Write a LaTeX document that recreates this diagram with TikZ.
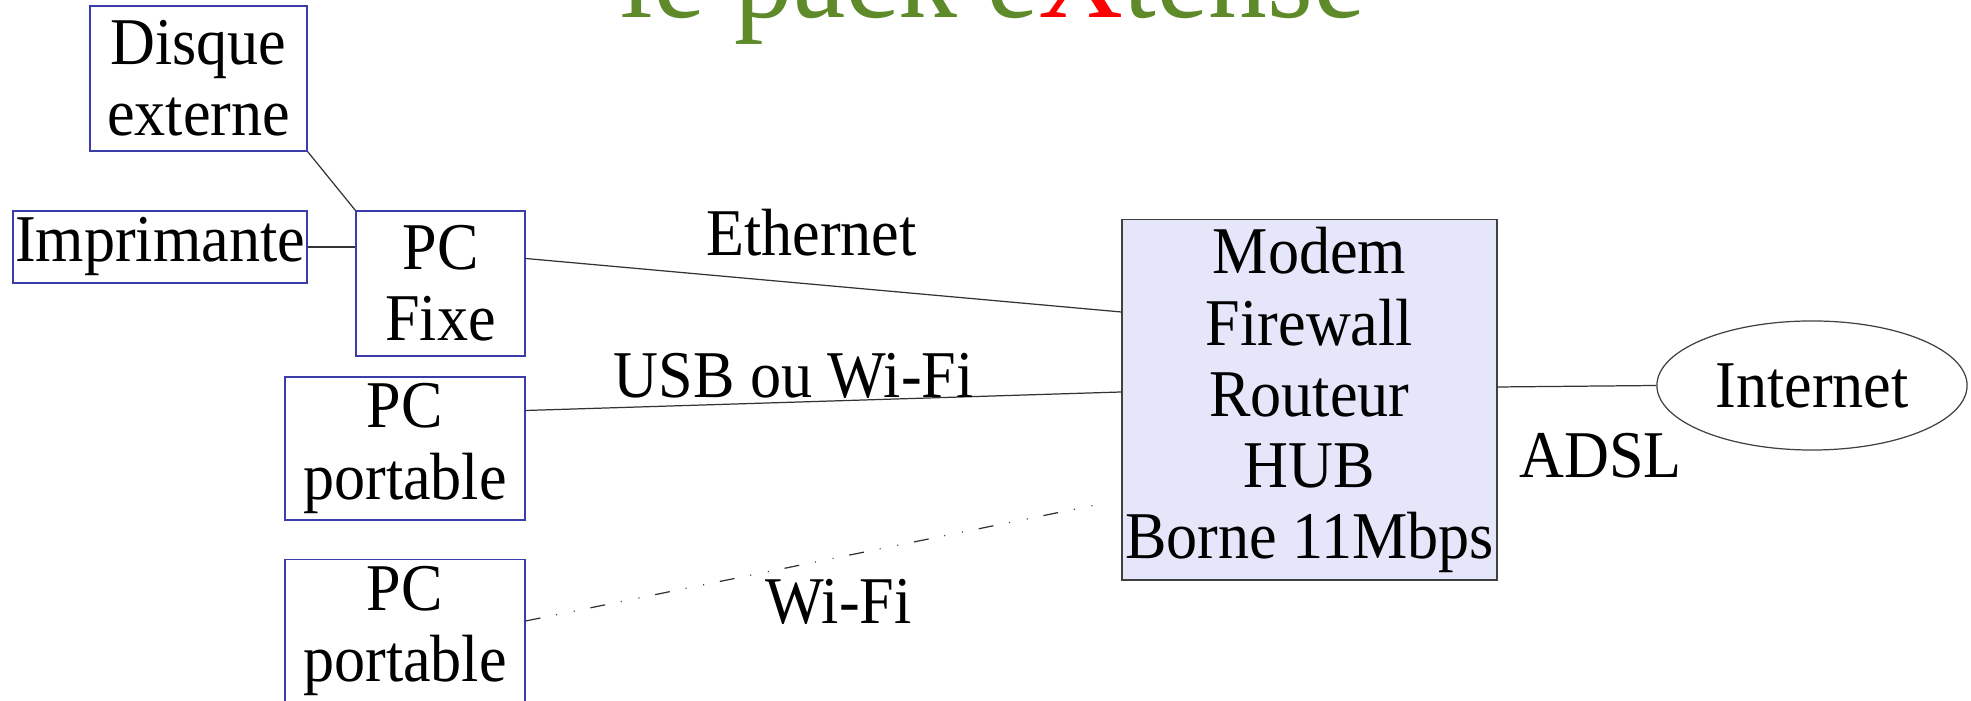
\documentclass[tikz,border=0pt]{standalone}
\usepackage{fontspec}
\setmainfont{Liberation Serif}[FakeStretch=0.93]
\usepackage{tikz}
\usetikzlibrary{calc}
\usetikzlibrary{shapes}

\definecolor{boxblue}{RGB}{60,60,170}
\definecolor{titlegreen}{RGB}{94,138,42}
\definecolor{modemfill}{RGB}{230,230,250}

\begin{document}
\begin{tikzpicture}[x=0.01cm, y=-0.01cm, line width=0.35pt,
        font=\fontsize{19}{20.2}\selectfont,
        box_style/.style={rectangle,draw=boxblue,align=center,inner sep=0pt},
        modem_style/.style={rectangle,draw=black!75,fill=modemfill,align=center,inner sep=0pt,minimum width=37.5mm,minimum height=36mm},
        cloud_style/.style={ellipse,draw=black!75,inner sep=0pt,minimum width=31mm,minimum height=12.9mm},
        edge_style/.style={draw=black!80},
        wifi_edge_style/.style={draw=black!80,dash pattern=on 1.5mm off 1.6mm on 0.1mm off 1.7mm on 0.1mm off 1.6mm},
        label_style/.style={inner sep=1pt}]

        \useasboundingbox (0,0) rectangle (1971,701);
        \clip (0,0) rectangle (1971,701);

        \node [anchor=base,font=\fontsize{36}{40}\selectfont,text=titlegreen](titre) at (993,18) {le pack e\textcolor{red}{X}tense};

        \node [box_style,minimum width=21.7mm,minimum height=14.5mm](disque) at (198.5,78.5) {Disque\\externe};

        \node [box_style,minimum width=29.4mm,minimum height=7.2mm](imprim) at (160,247) {Imprimante};

        \node [box_style,minimum width=16.9mm,minimum height=14.5mm](pcfixe) at (440.5,283.5) {PC\\Fixe};

        \node [box_style,minimum width=24mm,minimum height=14.3mm](portable1) at (405,448.5) {PC\\portable};

        \node [box_style,minimum width=24mm,minimum height=14.3mm](portable2) at (405,631) {PC\\portable};

        \node [modem_style](modem) at (1309.5,400) {Modem\\Firewall\\Routeur\\HUB\\Borne 11Mbps};

        \node [cloud_style](cloud) at (1812,385.5) {Internet};

        \draw [edge_style] (disque.south east) -- (pcfixe.north west);

        \draw [edge_style] (imprim.east) -- (imprim.east -| pcfixe.west);

        \draw [edge_style] ($(pcfixe.east)+(0,-25)$) -- node[label_style,pos=0.48,above=2.4mm]{Ethernet} ($(modem.west)+(0,-88)$);

        \draw [edge_style] ($(portable1.east)+(0,-38)$) -- node[label_style,pos=0.45,above=0mm]{USB ou Wi-Fi} ($(modem.west)+(0,-8)$);

        \draw [wifi_edge_style] ($(portable2.east)+(0,-10)$) -- node[label_style,pos=0.54,below=1.8mm]{Wi-Fi} ($(modem.west)+(-16,103)$);

        \draw [edge_style] ($(modem.east)+(0,-13)$) -- node[label_style,pos=0.65,below=4.3mm]{ADSL} (cloud.west);

        \end{tikzpicture}
\end{document}
